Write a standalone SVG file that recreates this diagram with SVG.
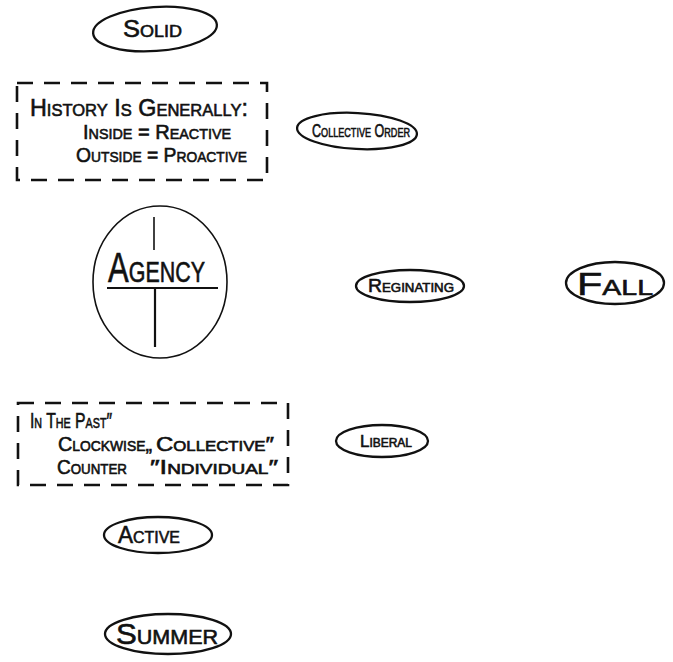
<svg xmlns="http://www.w3.org/2000/svg" width="673" height="662" viewBox="0 0 673 662">
  <style>
    .bg { fill: #ffffff; }
    .oval { fill: none; stroke: #111; stroke-width: 2.3; }
    .thin { fill: none; stroke: #111; stroke-width: 1.6; }
    .box { fill: none; stroke: #111; stroke-width: 2.6; stroke-dasharray: 16 11; }
    .rule { stroke: #111; stroke-width: 2.2; }
    .hand { font-family: "Liberation Sans", "DejaVu Sans", sans-serif; font-variant: small-caps; fill: #111; stroke: #111; stroke-width: 0.6; font-weight: normal; }
  </style>
  <rect class="bg" x="0" y="0" width="673" height="662"/>

  <!-- oval label: Solid -->
  <g id="solid">
    <ellipse class="oval" cx="155" cy="29" rx="62" ry="22" transform="rotate(-4 155 29)"/>
    <text class="hand" x="123" y="37" font-size="24" textLength="59" lengthAdjust="spacingAndGlyphs">Solid</text>
  </g>

  <!-- dashed note: history -->
  <g id="history-note">
    <rect class="box" x="17" y="83" width="250" height="97"/>
    <text class="hand" x="30" y="116" font-size="24" textLength="218" lengthAdjust="spacingAndGlyphs">History Is Generally:</text>
    <text class="hand" x="83" y="139" font-size="21" textLength="148" lengthAdjust="spacingAndGlyphs">Inside = Reactive</text>
    <text class="hand" x="76" y="162" font-size="21" textLength="171" lengthAdjust="spacingAndGlyphs">Outside = Proactive</text>
  </g>

  <!-- oval label: Collective Order -->
  <g id="collective-order">
    <ellipse class="oval" cx="357" cy="131" rx="60" ry="18" transform="rotate(3 357 131)"/>
    <text class="hand" x="312" y="137" font-size="18" textLength="98" lengthAdjust="spacingAndGlyphs">Collective Order</text>
  </g>

  <!-- agency circle with cross -->
  <g id="agency">
    <ellipse class="thin" cx="160" cy="282" rx="67" ry="76"/>
    <line class="thin" x1="154" y1="217" x2="154" y2="250" stroke-width="1"/>
    <line class="rule" x1="107" y1="288" x2="218" y2="288"/>
    <line class="rule" x1="155" y1="288" x2="155" y2="347" stroke-width="1.6"/>
    <text class="hand" x="108" y="282" font-size="42" textLength="97" lengthAdjust="spacingAndGlyphs">Agency</text>
  </g>

  <!-- oval label: Reginating -->
  <g id="reginating">
    <ellipse class="oval" cx="410" cy="286" rx="54" ry="16"/>
    <text class="hand" x="368" y="292" font-size="19" textLength="86" lengthAdjust="spacingAndGlyphs">Reginating</text>
  </g>

  <!-- oval label: Fall -->
  <g id="fall">
    <ellipse class="oval" cx="615" cy="283" rx="49" ry="21"/>
    <text class="hand" x="577" y="295" font-size="32" textLength="76" lengthAdjust="spacingAndGlyphs">Fall</text>
  </g>

  <!-- dashed note: past -->
  <g id="past-note">
    <rect class="box" x="18" y="403" width="270" height="82"/>
    <text class="hand" x="30" y="428" font-size="22" textLength="82" lengthAdjust="spacingAndGlyphs">In The Past″</text>
    <text class="hand" x="58" y="451" font-size="20" textLength="94" lengthAdjust="spacingAndGlyphs">Clockwise„</text>
    <text class="hand" x="156" y="451" font-size="20" textLength="118" lengthAdjust="spacingAndGlyphs">Collective″</text>
    <text class="hand" x="57" y="474" font-size="20" textLength="70" lengthAdjust="spacingAndGlyphs">Counter</text>
    <text class="hand" x="150" y="474" font-size="20" textLength="128" lengthAdjust="spacingAndGlyphs">″Individual″</text>
  </g>

  <!-- oval label: Liberal -->
  <g id="liberal">
    <ellipse class="oval" cx="382" cy="441" rx="46" ry="16"/>
    <text class="hand" x="360" y="447" font-size="17" textLength="52" lengthAdjust="spacingAndGlyphs">Liberal</text>
  </g>

  <!-- oval label: Active -->
  <g id="active">
    <ellipse class="oval" cx="158" cy="535" rx="54" ry="18"/>
    <text class="hand" x="118" y="543" font-size="24" textLength="62" lengthAdjust="spacingAndGlyphs">Active</text>
  </g>

  <!-- oval label: Summer -->
  <g id="summer">
    <ellipse class="oval" cx="168" cy="634" rx="63" ry="20"/>
    <text class="hand" x="116" y="644" font-size="29" textLength="102" lengthAdjust="spacingAndGlyphs">Summer</text>
  </g>

  <!-- no connectors between nodes -->
  <g id="connectors"/>
</svg>
